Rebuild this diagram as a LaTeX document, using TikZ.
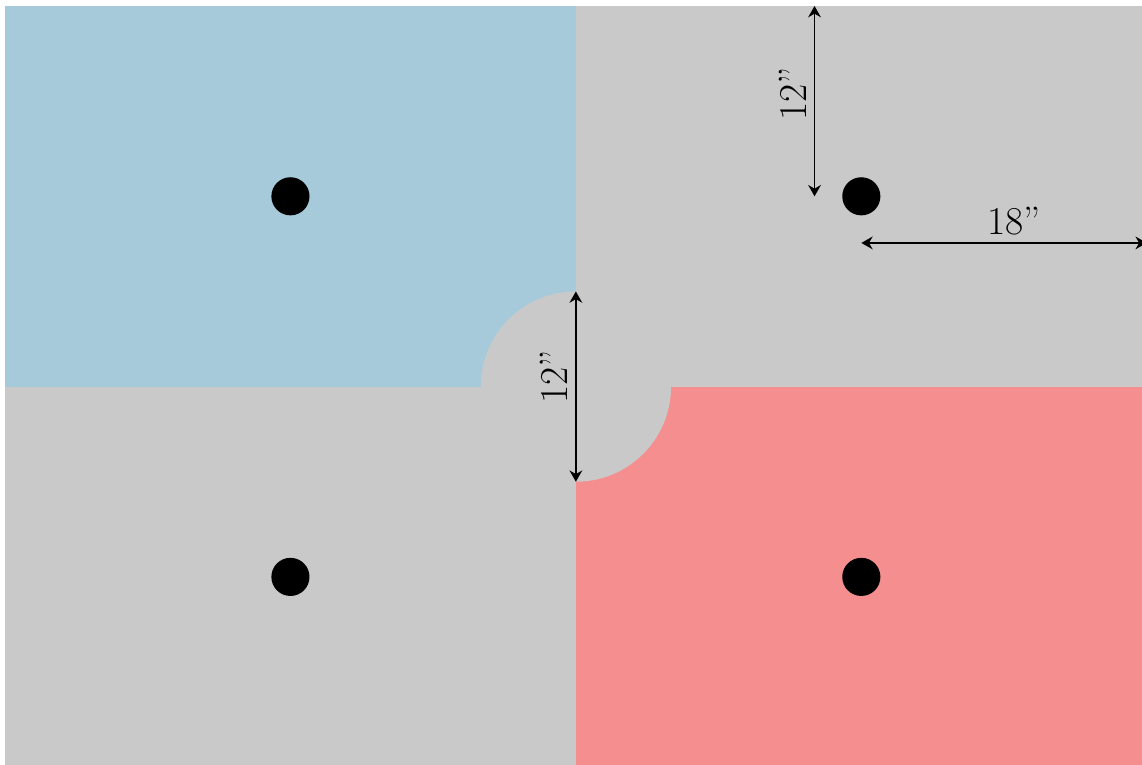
\documentclass[tikz,border=0pt]{standalone}
\usepackage{fontspec}
\usetikzlibrary{arrows.meta}
\definecolor{tileblue}{RGB}{167,202,218}
\definecolor{tilegray}{RGB}{201,201,201}
\definecolor{tilered}{RGB}{245,143,143}
\tikzset{
    dot/.style={circle, fill, inner sep=0pt, minimum size=0.95cm}, % 定义圆点的样式
    dim/.style={line width=1.3pt, {Stealth[length=8pt, width=9pt]}-{Stealth[length=8pt, width=9pt]}}, % 尺寸箭头
    dim label/.style={font=\fontsize{28}{30}\selectfont, inner sep=5pt} % 尺寸标注文字
}

\begin{document}
\begin{tikzpicture}[x=0.395cm, y=0.395cm]
    \def\w{36} \def\h{24} \def\r{6}
    \useasboundingbox (-0.315, 0.18) rectangle (71.7, 2*\h+0.38);

    \fill[tilegray] (0, 0) rectangle (2*\w, 2*\h);
    \fill[tileblue] (0, \h) rectangle (\w, 2*\h);
    \fill[tilered] (\w, 0) rectangle (2*\w, \h);
    \fill[tilegray] (\w, \h) circle[radius=\r];

    \foreach \x/\y [count=\i] in {18/36, 54/36, 18/12, 54/12} {\node[dot] (d\i) at (\x, \y) {};}

    \coordinate (topedge) at (51.05, 2*\h);
    \coordinate (rightedge) at (2*\w, 33.06);
    \coordinate (ctop) at (\w, \h+\r);
    \coordinate (cbot) at (\w, \h-\r);

    \draw[dim] (topedge) -- (topedge |- d2) node[midway, dim label, yshift=5pt, rotate=90, anchor=south] {12''};
    \draw[dim] (d2 |- rightedge) -- (rightedge) node[midway, dim label, xshift=7pt, anchor=south] {18''};
    \draw[dim] (ctop) -- (cbot) node[midway, dim label, yshift=7pt, rotate=90, anchor=south] {12''};
\end{tikzpicture}
\end{document}
